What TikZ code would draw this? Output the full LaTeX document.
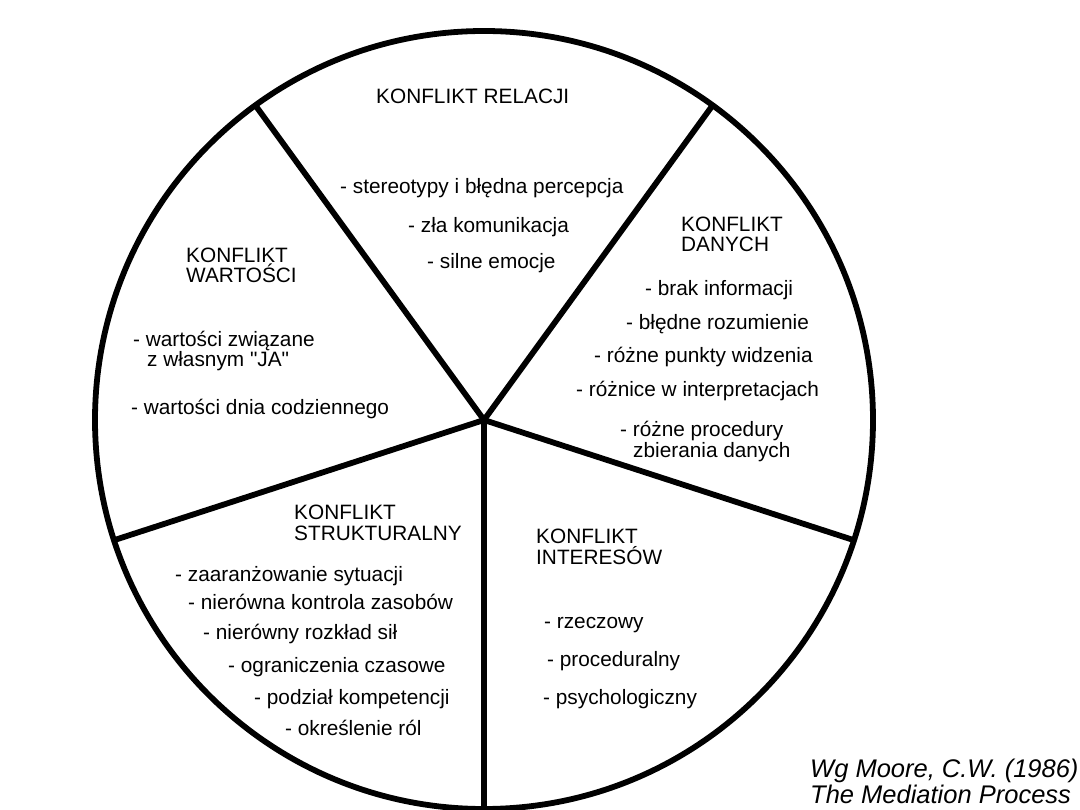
\documentclass[tikz,border=0pt]{standalone}
\usepackage{fontspec}
\setmainfont{Liberation Sans}[Ligatures=TeXOff]
\begin{document}
\begin{tikzpicture}[x=1pt,y=-1pt,
  lbl/.style={inner sep=0pt, anchor=base west, font=\fontsize{20.8}{20.5}\selectfont, align=left},
  cite/.style={inner sep=0pt, anchor=base west, font=\fontsize{25.5}{26}\selectfont\itshape, align=left},
  spoke/.style={line width=5.8pt}]
\useasboundingbox (0,0) rectangle (1080,810);
\node[circle, draw, line width=5.8pt, inner sep=0pt, outer sep=0pt, minimum size=778pt] (C) at (484,420) {};
\coordinate (H) at (484,420);
\draw[spoke] (H) -- (C.126);
\draw[spoke] (H) -- (C.54);
\draw[spoke] (H) -- (C.198);
\draw[spoke] (H) -- (C.-18);
\draw[spoke] (H) -- (C.-90);
% relacji
\node[lbl] (r0) at (376,104) {KONFLIKT RELACJI};
\node[lbl] (r1) at (340,194) {- stereotypy i błędna percepcja};
\node[lbl] (r2) at (408,233) {- zła komunikacja};
\node[lbl] (r3) at (427,269) {- silne emocje};
% danych
\node[lbl] (d0) at (681,252) {KONFLIKT\\DANYCH};
\node[lbl] (d1) at (645,296) {- brak informacji};
\node[lbl] (d2) at (626,330) {- błędne rozumienie};
\node[lbl] (d3) at (594,363) {- różne punkty widzenia};
\node[lbl] (d4) at (576,397) {- różnice w interpretacjach};
\node[lbl] (d5) at (620,457) {- różne procedury\\\hspace*{13pt}zbierania danych};
% wartosci
\node[lbl] (w0) at (186,283) {KONFLIKT\\WARTOŚCI};
\node[lbl] (w1) at (133,367) {- wartości związane\\\hspace*{14pt}z własnym "JA"};
\node[lbl] (w2) at (131,415) {- wartości dnia codziennego};
% strukturalny
\node[lbl] (s0) at (294,540) {KONFLIKT\\STRUKTURALNY};
\node[lbl] (s1) at (175,581) {- zaaranżowanie sytuacji};
\node[lbl] (s2) at (188,609) {- nierówna kontrola zasobów};
\node[lbl] (s3) at (203,639) {- nierówny rozkład sił};
\node[lbl] (s4) at (228,672) {- ograniczenia czasowe};
\node[lbl] (s5) at (254,704) {- podział kompetencji};
\node[lbl] (s6) at (285,735) {- określenie ról};
% interesow
\node[lbl] (i0) at (536,564) {KONFLIKT\\INTERESÓW};
\node[lbl] (i1) at (544,628) {- rzeczowy};
\node[lbl] (i2) at (547,666) {- proceduralny};
\node[lbl] (i3) at (543,704) {- psychologiczny};
% citation
\node[cite] (cit) at (810,803) {Wg Moore, C.W. (1986)\\The Mediation Process};
\end{tikzpicture}
\end{document}
